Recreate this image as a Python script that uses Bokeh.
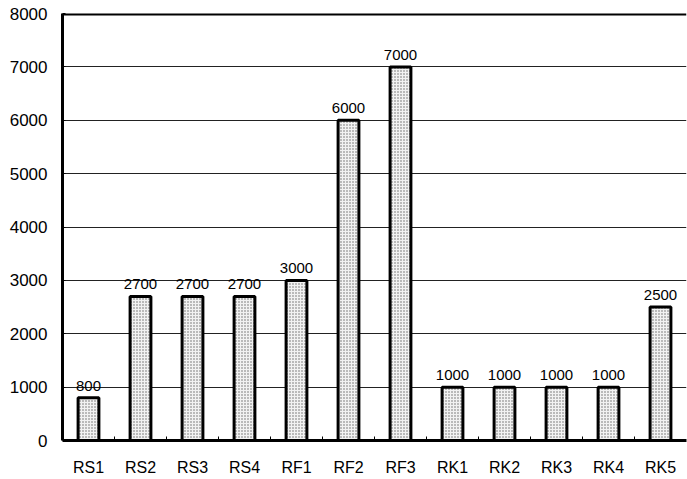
from bokeh.plotting import figure
from bokeh.models import ColumnDataSource, FixedTicker, Span, LabelSet, Range1d
from bokeh.core.properties import value
from bokeh.embed import file_html
from bokeh.resources import INLINE

categories = ["RS1", "RS2", "RS3", "RS4", "RF1", "RF2", "RF3", "RK1", "RK2", "RK3", "RK4", "RK5"]
values = [800, 2700, 2700, 2700, 3000, 6000, 7000, 1000, 1000, 1000, 1000, 2500]
y_ticks = [0, 1000, 2000, 3000, 4000, 5000, 6000, 7000, 8000]

xs = list(range(1, len(categories) + 1))
src = ColumnDataSource(dict(x=xs, top=values, label=[str(v) for v in values]))

p = figure(width=687, height=479, output_backend="svg", toolbar_location=None,
           x_range=Range1d(0.5, len(categories) + 0.5), y_range=Range1d(0, 8000),
           min_border_left=62, min_border_right=1, min_border_top=13, min_border_bottom=39)
p.outline_line_color = None
p.background_fill_color = "white"

p.vbar(x="x", top="top", width=0.4, bottom=0, source=src,
       fill_color="#f2f2f2", hatch_pattern="dot", hatch_scale=3, hatch_weight=1,
       hatch_color="#666666", line_color="black", line_width=3)

labels = LabelSet(x="x", y="top", text="label", source=src, text_align="center",
                  text_baseline="bottom", y_offset=7, text_font=value("Liberation Sans"),
                  text_font_size="15px", text_color="black")
p.add_layout(labels)

p.add_layout(Span(location=8000, dimension="width", line_color="black", line_width=4))

# x axis
p.xaxis.ticker = FixedTicker(ticks=xs, minor_ticks=[x + 0.5 for x in xs[:-1]])
p.xaxis.major_label_overrides = {x: c for x, c in zip(xs, categories)}
p.xaxis.major_tick_in = 0
p.xaxis.major_tick_out = 0
p.xaxis.minor_tick_in = 4
p.xaxis.minor_tick_out = 0
p.xaxis.minor_tick_line_color = "black"
p.xaxis.axis_line_width = 3
p.xaxis.axis_line_color = "black"
p.xaxis.major_label_standoff = 18
p.xaxis.major_label_text_font = "Liberation Sans"
p.xaxis.major_label_text_font_size = "16px"
p.xaxis.major_label_text_color = "black"

# y axis
p.yaxis.ticker = FixedTicker(ticks=y_ticks)
p.yaxis.major_tick_in = 3
p.yaxis.major_tick_out = 0
p.yaxis.minor_tick_line_color = None
p.yaxis.axis_line_width = 3
p.yaxis.axis_line_color = "black"
p.yaxis.major_label_standoff = 15
p.yaxis.major_label_text_font = "Liberation Sans"
p.yaxis.major_label_text_font_size = "17px"
p.yaxis.major_label_text_color = "black"

p.xgrid.grid_line_color = None
p.ygrid.ticker = FixedTicker(ticks=y_ticks)
p.ygrid.grid_line_color = "#222222"
p.ygrid.grid_line_width = 1
p.ygrid.level = "underlay"

open("out.html", "w").write(file_html(p, INLINE))
